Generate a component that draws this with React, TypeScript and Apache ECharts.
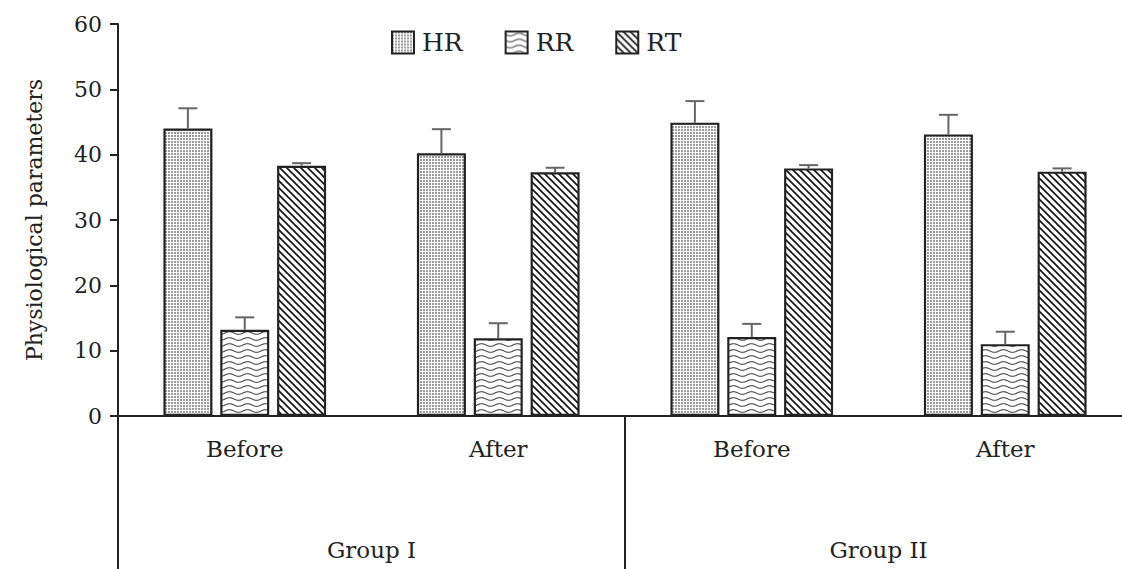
import React, { useEffect, useRef } from "react";
import * as echarts from "echarts";

// ---- data ----
const categories = ["Before", "After", "Before", "After"];
const groups = ["Group I", "Group II"];
const seriesNames = ["HR", "RR", "RT"];
const hrMean = [44.0, 40.2, 44.9, 43.1];
const hrErr = [3.1, 3.7, 3.3, 3.0];
const rrMean = [13.2, 11.9, 12.1, 11.0];
const rrErr = [1.9, 2.3, 2.0, 1.9];
const rtMean = [38.3, 37.3, 37.9, 37.4];
const rtErr = [0.4, 0.7, 0.5, 0.5];
const yMin = 0;
const yMax = 60;
const yInterval = 10;

const FONT = "DejaVu Serif";
const TEXT = "#222";
const BAR_W = 49;
const BAR_GAP_RATIO = 0.16;
const CAP = 19;

function makeTile(w: number, h: number, draw: (c: CanvasRenderingContext2D) => void) {
  const cv = document.createElement("canvas");
  cv.width = w;
  cv.height = h;
  const ctx = cv.getContext("2d")!;
  ctx.fillStyle = "#fff";
  ctx.fillRect(0, 0, w, h);
  draw(ctx);
  return cv;
}

export default function App() {
  const ref = useRef<HTMLDivElement>(null);
  useEffect(() => {
    if (!ref.current) return;
    const chart = echarts.init(ref.current, undefined, { renderer: "svg" });

    const hrTile = makeTile(3, 3, (c) => {
      c.fillStyle = "#9a9a9a";
      c.fillRect(0, 0, 2, 2);
    });
    const rrTile = makeTile(18, 6, (c) => {
      c.strokeStyle = "#444";
      c.lineWidth = 1.1;
      c.beginPath();
      for (let x = 0; x <= 18; x += 0.5) {
        const y = 3 + 1.3 * Math.sin((x / 18) * Math.PI * 2);
        if (x === 0) c.moveTo(x, y);
        else c.lineTo(x, y);
      }
      c.stroke();
    });
    const rtTile = makeTile(7, 7, (c) => {
      c.strokeStyle = "#111";
      c.lineWidth = 1.6;
      c.beginPath();
      c.moveTo(-1, -1);
      c.lineTo(8, 8);
      c.moveTo(-8, -1);
      c.lineTo(1, 8);
      c.moveTo(6, -1);
      c.lineTo(15, 8);
      c.stroke();
    });
    const tiles = [hrTile, rrTile, rtTile];
    const means = [hrMean, rrMean, rtMean];
    const errs = [hrErr, rrErr, rtErr];

    const barStep = BAR_W * (1 + BAR_GAP_RATIO);
    const errData: number[][] = [];
    means.forEach((m, si) =>
      m.forEach((v, ci) => errData.push([ci, v, errs[si][ci], si]))
    );

    const barSeries = seriesNames.map((name, si) => ({
      name,
      type: "bar",
      barWidth: BAR_W,
      barGap: `${BAR_GAP_RATIO * 100}%`,
      xAxisIndex: 0,
      yAxisIndex: 0,
      data: means[si],
      itemStyle: {
        color: { image: tiles[si], repeat: "repeat" },
        borderColor: "#222",
        borderWidth: 2.2,
      },
    }));

    chart.setOption({
      animation: false,
      textStyle: { fontFamily: FONT, color: TEXT },
      legend: {
        data: seriesNames,
        icon: "rect",
        left: 386,
        top: 25,
        itemWidth: 22,
        itemHeight: 22,
        itemGap: 42,
        textStyle: { fontFamily: FONT, fontSize: 25, color: TEXT, padding: [0, 0, 0, 3] },
      },
      grid: {
        left: 118,
        width: 1014,
        top: 24,
        bottom: 153,
        containLabel: false,
        outerBoundsMode: "none",
      },
      xAxis: [
        {
          type: "category",
          data: categories,
          position: "bottom",
          axisLine: { lineStyle: { color: TEXT, width: 2 } },
          axisTick: { show: false },
          axisLabel: { margin: 21, fontSize: 23, color: TEXT, fontFamily: FONT },
          splitLine: { show: false },
        },
        {
          type: "category",
          data: groups,
          position: "bottom",
          axisLine: { show: false },
          axisTick: { show: true, length: 153, lineStyle: { color: TEXT, width: 2 } },
          axisLabel: { margin: 122, fontSize: 23, color: TEXT, fontFamily: FONT },
          splitLine: { show: false },
        },
      ],
      yAxis: {
        type: "value",
        min: yMin,
        max: yMax,
        interval: yInterval,
        name: "Physiological parameters",
        nameLocation: "middle",
        nameGap: 73,
        nameTextStyle: { fontSize: 22, color: TEXT, fontFamily: FONT },
        axisLine: { show: true, lineStyle: { color: TEXT, width: 2 } },
        axisTick: { show: true, length: 8, lineStyle: { color: TEXT, width: 2 } },
        axisLabel: { margin: 16, fontSize: 22, color: TEXT, fontFamily: FONT },
        splitLine: { show: false },
      },
      series: [
        ...barSeries,
        {
          type: "custom",
          name: "err",
          xAxisIndex: 0,
          yAxisIndex: 0,
          data: errData,
          z: 5,
          renderItem: (params: any, api: any) => {
            const cat = api.value(0);
            const mean = api.value(1);
            const err = api.value(2);
            const idx = api.value(3);
            const base = api.coord([cat, mean]);
            const top = api.coord([cat, mean + err]);
            const x = base[0] + (idx - 1) * barStep;
            const style = { stroke: "#666", lineWidth: 2 };
            return {
              type: "group",
              children: [
                { type: "line", shape: { x1: x, y1: base[1], x2: x, y2: top[1] }, style },
                { type: "line", shape: { x1: x - CAP / 2, y1: top[1], x2: x + CAP / 2, y2: top[1] }, style },
              ],
            };
          },
        },
      ],
    });
    return () => chart.dispose();
  }, []);
  return (
    <div
      ref={ref}
      style={{ position: "absolute", left: 0, top: 0, width: 1122, height: 569, background: "#fff" }}
    />
  );
}
